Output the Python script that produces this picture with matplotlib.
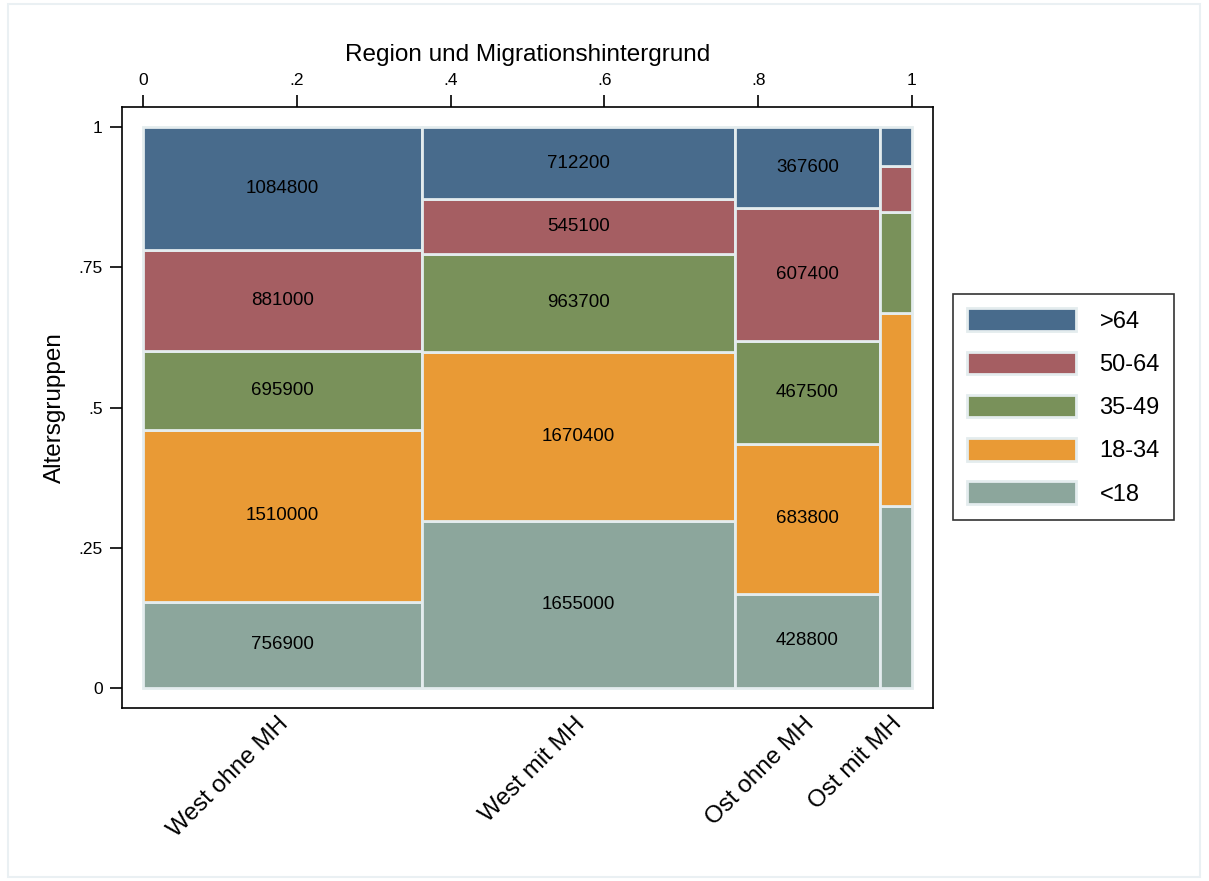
import matplotlib.pyplot as plt
from matplotlib.patches import Rectangle, Patch

plt.rcParams['font.family'] = ['Liberation Sans', 'DejaVu Sans']

regions = ['West ohne MH', 'West mit MH', 'Ost ohne MH', 'Ost mit MH']
age_groups = ['<18', '18-34', '35-49', '50-64', '>64']
counts = {
    'West ohne MH': [756900, 1510000, 695900, 881000, 1084800],
    'West mit MH': [1655000, 1670400, 963700, 545100, 712200],
    'Ost ohne MH': [428800, 683800, 467500, 607400, 367600],
    'Ost mit MH': [186500, 197000, 103300, 47000, 40200],
}
show_labels = [True, True, True, False]
colors = ['#8ca69c', '#e99a35', '#79915a', '#a55e62', '#486b8c']
edge = '#e4ecee'

fig = plt.figure(figsize=(12.09, 8.81), dpi=100)
ax = fig.add_axes([122 / 1209, 1 - 708 / 881, (933 - 122) / 1209, (708 - 107) / 881])

total = sum(sum(v) for v in counts.values())
x0 = 0.0
centers = []
for reg, show in zip(regions, show_labels):
    vals = counts[reg]
    w = sum(vals) / total
    y0 = 0.0
    for val, col in zip(vals, colors):
        h = val / sum(vals)
        ax.add_patch(Rectangle((x0, y0), w, h, facecolor=col, edgecolor=edge, linewidth=2))
        if show:
            ax.text(x0 + w / 2, y0 + h / 2, str(val), ha='center', va='center', fontsize=13.5)
        y0 += h
    centers.append(x0 + w / 2)
    x0 += w

ax.set_xlim(-21 / 769, 1 + 21 / 769)
ax.set_ylim(-20 / 561, 1 + 20 / 561)

# top axis with proportions
ax.xaxis.set_ticks_position('top')
ax.xaxis.set_label_position('top')
ax.set_xticks([0, 0.2, 0.4, 0.6, 0.8, 1])
ax.set_xticklabels(['0', '.2', '.4', '.6', '.8', '1'], fontsize=12.5)
ax.set_xlabel('Region und Migrationshintergrund', fontsize=17.5, labelpad=9)
ax.tick_params(axis='x', length=8.5, width=1.2, pad=5)

ax.set_yticks([0, 0.25, 0.5, 0.75, 1])
ax.set_yticklabels(['0', '.25', '.5', '.75', '1'], fontsize=12.5)
ax.tick_params(axis='y', length=8.5, width=1.2, pad=5.5)
ax.set_ylabel('Altersgruppen', fontsize=17.5, labelpad=9)

for s in ax.spines.values():
    s.set_linewidth(1.2)

# category labels below
for c, reg in zip(centers, regions):
    ax.text(c + 0.004, -0.058, reg, rotation=45, ha='right', va='center',
            rotation_mode='anchor', fontsize=17.5)

handles = [Patch(facecolor=col, edgecolor=edge, linewidth=2, label=lab)
           for col, lab in zip(colors[::-1], age_groups[::-1])]
leg = fig.legend(handles=handles, loc='center left',
                 bbox_to_anchor=(953 / 1209, 1 - 407 / 881),
                 fontsize=17, frameon=True, fancybox=False,
                 handlelength=4.6, handleheight=1.1, labelspacing=0.8,
                 handletextpad=1.0, borderpad=0.6, borderaxespad=0)
leg.get_frame().set_edgecolor('black')
leg.get_frame().set_linewidth(1.2)

# faint outer border
fig.patches.append(Rectangle((8 / 1209, 4 / 881), 1192 / 1209, 873 / 881,
                             transform=fig.transFigure, fill=False,
                             edgecolor='#eaf0f3', linewidth=1.5))

fig.savefig('out.png', dpi=100)
